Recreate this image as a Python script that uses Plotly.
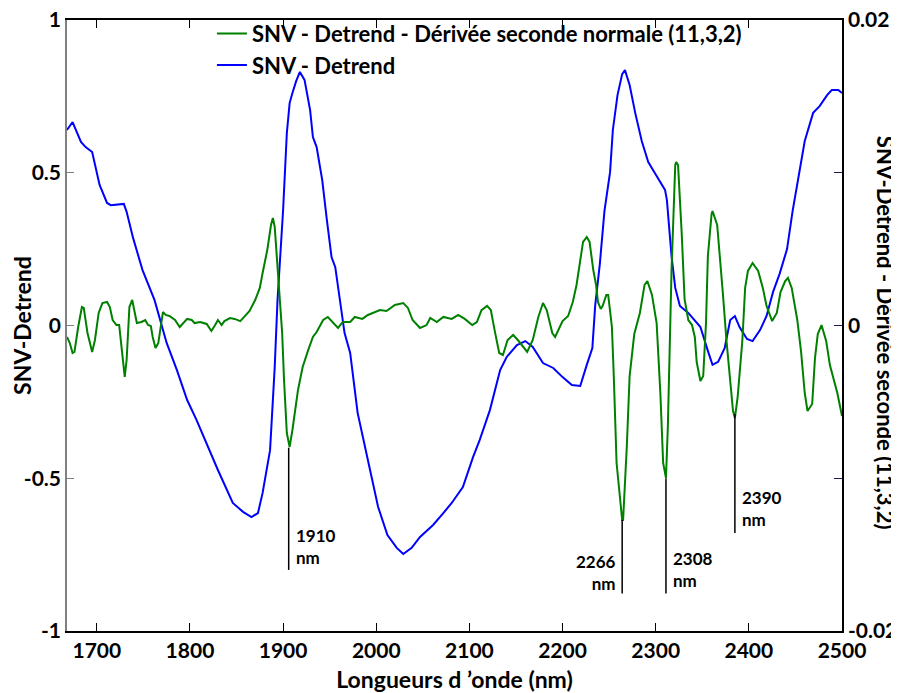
import plotly.graph_objects as go

# ---- SNV - Detrend (left axis) ----
wl_snv = [1668, 1674, 1683, 1688, 1695, 1703, 1711, 1715, 1729, 1732, 1739, 1749, 1762, 1775, 1786,
          1797, 1807, 1825, 1830, 1846, 1857, 1866, 1873, 1878, 1886, 1889, 1891, 1894, 1897, 1900,
          1904, 1907, 1910, 1914, 1918, 1923, 1929, 1932, 1936, 1942, 1947, 1952, 1956, 1966, 1972,
          1980, 1991, 2002, 2012, 2022, 2029, 2038, 2047, 2061, 2072, 2081, 2093, 2104, 2111, 2122,
          2133, 2140, 2151, 2160, 2168, 2179, 2190, 2200, 2210, 2219, 2226, 2232, 2235, 2240, 2245,
          2251, 2254, 2259, 2264, 2267, 2272, 2278, 2285, 2292, 2301, 2310, 2312, 2317, 2321, 2326,
          2335, 2348, 2356, 2361, 2367, 2374, 2380, 2385, 2390, 2398, 2404, 2412, 2419, 2426, 2433,
          2441, 2447, 2455, 2460, 2469, 2476, 2484, 2489, 2496, 2500]
snv = [0.640, 0.666, 0.601, 0.584, 0.568, 0.460, 0.401, 0.394, 0.398, 0.372, 0.286, 0.182, 0.083, -0.057, -0.146,
       -0.244, -0.309, -0.440, -0.473, -0.581, -0.610, -0.627, -0.614, -0.548, -0.408, -0.245, -0.136, 0.083, 0.220, 0.378,
       0.630, 0.728, 0.761, 0.800, 0.830, 0.804, 0.705, 0.617, 0.584, 0.476, 0.345, 0.224, 0.191, -0.025, -0.090,
       -0.286, -0.440, -0.594, -0.686, -0.728, -0.748, -0.728, -0.692, -0.653, -0.614, -0.581, -0.529, -0.430, -0.375, -0.277,
       -0.146, -0.103, -0.064, -0.051, -0.070, -0.123, -0.139, -0.169, -0.195, -0.198, -0.129, -0.074, 0.064, 0.201, 0.375,
       0.502, 0.640, 0.754, 0.823, 0.836, 0.787, 0.696, 0.604, 0.535, 0.489, 0.444, 0.411, 0.227, 0.123, 0.064,
       0.041, -0.005, -0.083, -0.129, -0.119, -0.074, 0.018, 0.031, -0.005, -0.044, -0.051, -0.015, 0.031, 0.110, 0.169,
       0.250, 0.375, 0.512, 0.604, 0.696, 0.718, 0.754, 0.771, 0.771, 0.761]

# ---- SNV - Detrend - second derivative (right axis) ----
wl_d2 = [1668, 1671, 1674, 1676, 1680, 1684, 1686, 1690, 1695, 1698, 1702, 1706, 1711, 1714, 1717,
         1721, 1724, 1728, 1730, 1732, 1735, 1738, 1740, 1743, 1748, 1752, 1755, 1758, 1760, 1763,
         1766, 1769, 1771, 1774, 1778, 1784, 1789, 1797, 1802, 1805, 1811, 1818, 1823, 1827, 1830,
         1834, 1837, 1843, 1848, 1854, 1859, 1864, 1870, 1875, 1878, 1883, 1887, 1889, 1891, 1894,
         1899, 1901, 1904, 1907, 1910, 1916, 1921, 1927, 1932, 1936, 1943, 1948, 1953, 1959, 1964,
         1972, 1977, 1985, 1991, 1996, 2004, 2011, 2020, 2029, 2034, 2039, 2047, 2054, 2058, 2065,
         2072, 2081, 2088, 2095, 2103, 2108, 2113, 2119, 2123, 2127, 2132, 2136, 2141, 2147, 2152,
         2162, 2168, 2174, 2179, 2183, 2189, 2192, 2197, 2200, 2206, 2211, 2215, 2219, 2222, 2226,
         2229, 2233, 2236, 2238, 2241, 2243, 2247, 2249, 2253, 2255, 2258, 2264, 2265, 2269, 2272,
         2277, 2283, 2288, 2291, 2296, 2301, 2305, 2308, 2311, 2313, 2317, 2321, 2322, 2324, 2328,
         2331, 2335, 2339, 2342, 2344, 2348, 2351, 2354, 2356, 2360, 2361, 2366, 2369, 2372, 2376,
         2380, 2383, 2385, 2388, 2393, 2396, 2399, 2404, 2410, 2415, 2419, 2425, 2430, 2434, 2439,
         2442, 2446, 2452, 2456, 2460, 2463, 2468, 2471, 2474, 2478, 2483, 2487, 2495, 2500]
d2 = [-0.00075, -0.00115, -0.00180, -0.00173, -0.00010, 0.00121, 0.00115, -0.00049, -0.00173, -0.00095, 0.00082, 0.00147, 0.00154, 0.00121, 0.00036,
      0.00003, 0.00003, -0.00226, -0.00337, -0.00226, 0.00121, 0.00167, 0.00101, 0.00016, 0.00023, 0.00036, 0.00003, -0.00003, -0.00075, -0.00147,
      -0.00115, 0.00016, 0.00088, 0.00069, 0.00062, 0.00036, -0.00010, 0.00043, 0.00036, 0.00016, 0.00023, 0.00010, -0.00036, 0.00003, 0.00036,
      0.00003, 0.00029, 0.00049, 0.00043, 0.00029, 0.00062, 0.00095, 0.00167, 0.00246, 0.00344, 0.00494, 0.00658, 0.00704, 0.00645, 0.00383,
      -0.00049, -0.00357, -0.00704, -0.00795, -0.00684, -0.00422, -0.00272, -0.00160, -0.00075, -0.00043, 0.00036, 0.00056, 0.00023, -0.00016, 0.00023,
      0.00023, 0.00056, 0.00043, 0.00069, 0.00082, 0.00101, 0.00095, 0.00134, 0.00147, 0.00115, 0.00036, -0.00016, 0.00003, 0.00049, 0.00023,
      0.00056, 0.00043, 0.00069, 0.00043, 0.00003, 0.00023, 0.00101, 0.00128, 0.00101, -0.00029, -0.00180, -0.00193, -0.00095, -0.00062, -0.00095,
      -0.00173, -0.00095, 0.00056, 0.00147, 0.00101, -0.00049, -0.00075, -0.00010, 0.00029, 0.00062, 0.00154, 0.00265, 0.00429, 0.00547, 0.00579,
      0.00547, 0.00363, 0.00265, 0.00154, 0.00108, 0.00128, 0.00200, 0.00200, -0.00010, -0.00331, -0.00900, -0.01273, -0.01273, -0.00789, -0.00331,
      -0.00056, 0.00082, 0.00265, 0.00291, 0.00200, 0.00016, -0.00442, -0.00900, -0.00998, -0.00671, 0.00363, 0.01051, 0.01070, 0.01051, 0.00593,
      0.00173, 0.00036, 0.00003, -0.00075, -0.00239, -0.00363, -0.00331, 0.00016, 0.00455, 0.00730, 0.00750, 0.00658, 0.00448, 0.00219, -0.00101,
      -0.00376, -0.00560, -0.00606, -0.00468, -0.00101, 0.00246, 0.00357, 0.00409, 0.00357, 0.00246, 0.00128, 0.00029, 0.00082, 0.00219, 0.00291,
      0.00311, 0.00246, 0.00036, -0.00167, -0.00442, -0.00560, -0.00514, -0.00213, -0.00056, 0.00003, -0.00101, -0.00259, -0.00442, -0.00593]

# ---- annotated bands ----
band_pos = [1906, 2264, 2311, 2385]
band_labels = ["1910", "2266", "2308", "2390"]
band_top = [-0.40, -0.637, -0.50, -0.29]
band_bottom = [-0.80, -0.877, -0.877, -0.679]
band_text_y = [-0.725, -0.807, -0.80, -0.60]
band_side = ["right", "left", "right", "right"]

FONT = "Lato"
W = "bold"
fig = go.Figure()
fig.add_trace(go.Scatter(x=wl_snv, y=snv, mode="lines", name="SNV - Detrend",
                         line=dict(color="#0000FF", width=2), legendrank=2, legendgroup="b"))
fig.add_trace(go.Scatter(x=wl_d2, y=d2, mode="lines", yaxis="y2",
                         name="SNV - Detrend - Dérivée seconde normale (11,3,2)",
                         line=dict(color="#008000", width=2), legendrank=1, legendgroup="g"))

shapes = []
annotations = []
for xp, lab, yt, yb, ty, side in zip(band_pos, band_labels, band_top, band_bottom, band_text_y, band_side):
    shapes.append(dict(type="line", xref="x", yref="y", x0=xp, x1=xp, y0=yt, y1=yb,
                       line=dict(color="black", width=1.5)))
    annotations.append(dict(x=xp, y=ty, xref="x", yref="y", text=f"{lab}<br>nm", showarrow=False,
                            xanchor="left" if side == "right" else "right",
                            xshift=5 if side == "right" else -4, align="left" if side == "right" else "right",
                            font=dict(family=FONT, size=17, color="black", weight=W)))

annotations.append(dict(x=1.0555, y=0.488, xref="paper", yref="paper",
                        text="SNV-Detrend - Dérivée seconde (11,3,2)", textangle=90, showarrow=False,
                        xanchor="center", yanchor="middle",
                        font=dict(family=FONT, size=22, color="black", weight=W)))

# page body adds 8 px offset; figure sized so plot area lands at x 67-842, y 20-631 on screen
fig.update_layout(
    width=891, height=685,
    margin=dict(l=59, r=57, t=12, b=62, autoexpand=False),
    plot_bgcolor="white", paper_bgcolor="white",
    font=dict(family=FONT, size=20, color="black", weight=W),
    showlegend=True,
    legend=dict(x=0.187, y=1.012, xanchor="left", yanchor="top", bgcolor="rgba(0,0,0,0)",
                font=dict(family=FONT, size=22, color="black", weight=W),
                tracegroupgap=28, traceorder="normal"),
    xaxis=dict(range=[1668, 2500], tickvals=[1700, 1800, 1900, 2000, 2100, 2200, 2300, 2400, 2500],
               ticks="inside", ticklen=8, tickcolor="black", showline=True, linecolor="black",
               linewidth=1.5, mirror="ticks", showgrid=False, zeroline=False, automargin=False,
               ticklabeloverflow="allow",
               tickfont=dict(family=FONT, size=21, weight=W),
               title=dict(text="Longueurs d ’onde (nm)", standoff=14,
                          font=dict(family=FONT, size=23, weight=W))),
    yaxis=dict(range=[-1, 1], tickvals=[-1, -0.5, 0, 0.5, 1], ticktext=["-1", "-0.5", "0", "0.5", "1"],
               ticks="inside", ticklen=7, tickcolor="#808080", showline=True, linecolor="#808080",
               linewidth=1.5, showgrid=False, zeroline=False, automargin=False,
               ticklabeloverflow="allow",
               tickfont=dict(family=FONT, size=21, weight=W),
               title=dict(text="SNV-Detrend", standoff=2, font=dict(family=FONT, size=23, weight=W))),
    yaxis2=dict(range=[-0.02, 0.02], overlaying="y", side="right",
                tickvals=[-0.02, -0.01, 0, 0.01, 0.02], ticktext=["-0.02", "", "0", "", "0.02"],
                ticks="inside", ticklen=8, tickcolor="#1a1a4d", showline=True, linecolor="black",
                linewidth=1.5, showgrid=False, zeroline=False, automargin=False,
                ticklabeloverflow="allow",
                tickfont=dict(family=FONT, size=21, weight=W)),
    shapes=shapes,
    annotations=annotations,
)

fig.write_html("out.html")
